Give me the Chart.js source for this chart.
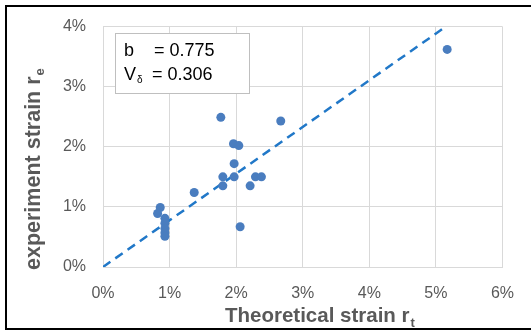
<!DOCTYPE html>
<html>
<head>
<meta charset="utf-8">
<script src="https://cdn.jsdelivr.net/npm/chart.js@4"></script>
<style>
  html, body { margin: 0; padding: 0; background: #fff; }
  #wrap { width: 531px; height: 330px; position: relative; }
</style>
</head>
<body>
<div id="wrap"><canvas id="strainChart" width="531" height="330"></canvas></div>
<script>
// 数据 (单位: %)
const theoreticalStrain = [5.17, 1.77, 2.67, 1.96, 2.04, 1.97, 1.80, 1.97, 2.29, 2.38, 1.80, 2.21, 1.37, 0.86, 0.82, 0.93, 0.93, 0.93, 0.93, 0.93, 2.06];
const experimentStrain  = [3.62, 2.49, 2.43, 2.05, 2.02, 1.72, 1.50, 1.50, 1.50, 1.50, 1.35, 1.35, 1.24, 0.99, 0.89, 0.81, 0.73, 0.64, 0.57, 0.51, 0.67];
const fitLineX = [0, 5.15];
const fitLineY = [0, 4];
const xTicks = [0, 1, 2, 3, 4, 5, 6];
const yTicks = [0, 1, 2, 3, 4];
const statLabels = ['b', 'V'];
const statValues = ['0.775', '0.306'];

const FONT = '"Liberation Sans", Arial, sans-serif';
const GREY = '#595959';

// 坐标轴标题、统计框、外框
const decorPlugin = {
    id: 'decor',
    afterDraw(chart) {
        const c = chart.ctx;
        c.save();

        // 统计框
        c.fillStyle = '#fff';
        c.fillRect(115, 33, 134, 60);
        c.strokeStyle = '#bfbfbf';
        c.lineWidth = 1;
        c.strokeRect(115.5, 33.5, 134, 60);
        c.fillStyle = '#000';
        c.textBaseline = 'alphabetic';
        c.font = '18px ' + FONT;
        c.fillText(statLabels[0], 124, 56);
        c.fillText('= ' + statValues[0], 154, 56);
        c.fillText(statLabels[1], 124, 80);
        c.font = '10px ' + FONT;
        c.fillText('δ', 137, 83);
        c.fillText('', 0, 0);
        c.font = '18px ' + FONT;
        c.fillText('= ' + statValues[1], 152, 80);

        // x 轴标题
        c.fillStyle = GREY;
        c.font = 'bold 20.5px ' + FONT;
        const xt = 'Theoretical strain r';
        const xw = c.measureText(xt).width;
        const xs = 225;
        c.fillText(xt, xs, 322);
        c.font = 'bold 13px ' + FONT;
        c.fillText('t', xs + xw + 1, 327);

        // y 轴标题
        c.translate(40, 270);
        c.rotate(-Math.PI / 2);
        c.font = 'bold 21.5px ' + FONT;
        const yt = 'experiment strain r';
        const yw = c.measureText(yt).width;
        c.fillText(yt, 0, 0);
        c.font = 'bold 13px ' + FONT;
        c.fillText('e', yw + 1, 4);
        c.setTransform(1, 0, 0, 1, 0, 0);

        // 外框
        c.fillStyle = '#000';
        c.fillRect(5, 5, 526, 2);
        c.fillRect(5, 5, 2, 325);
        c.fillRect(5, 328, 526, 2);
        c.restore();
    }
};

function initChart() {
    const ctx = document.getElementById('strainChart').getContext('2d');
    new Chart(ctx, {
        type: 'scatter',
        data: {
            datasets: [
                {
                    label: 'data',
                    data: theoreticalStrain.map((x, i) => ({ x: x, y: experimentStrain[i] })),
                    backgroundColor: '#4a7dbf',
                    borderColor: '#4a7dbf',
                    pointRadius: 4.5,
                    pointBorderWidth: 0,
                    order: 1
                },
                {
                    label: 'fit',
                    data: fitLineX.map((x, i) => ({ x: x, y: fitLineY[i] })),
                    showLine: true,
                    borderColor: '#2178c8',
                    borderWidth: 2.5,
                    borderDash: [9, 6],
                    pointRadius: 0,
                    fill: false,
                    order: 2
                }
            ]
        },
        options: {
            responsive: false,
            animation: false,
            events: [],
            layout: { padding: { left: 0, top: 24, right: 27, bottom: 0 } },
            plugins: {
                legend: { display: false },
                tooltip: { enabled: false }
            },
            scales: {
                x: {
                    type: 'linear',
                    min: xTicks[0],
                    max: xTicks[xTicks.length - 1],
                    afterFit: s => { s.height = 63; },
                    afterBuildTicks: s => { s.ticks = xTicks.map(v => ({ value: v })); },
                    grid: { color: '#d9d9d9', lineWidth: 1, drawTicks: false },
                    border: { color: '#d9d9d9' },
                    ticks: {
                        padding: 17,
                        color: GREY,
                        font: { family: FONT, size: 16 },
                        callback: v => v + '%'
                    }
                },
                y: {
                    type: 'linear',
                    min: yTicks[0],
                    max: yTicks[yTicks.length - 1],
                    afterFit: s => { s.width = 103; },
                    afterBuildTicks: s => { s.ticks = yTicks.map(v => ({ value: v })); },
                    grid: { color: '#d9d9d9', lineWidth: 1, drawTicks: false },
                    border: { color: '#d9d9d9' },
                    ticks: {
                        padding: 17,
                        color: GREY,
                        font: { family: FONT, size: 16 },
                        callback: v => v + '%'
                    }
                }
            }
        },
        plugins: [decorPlugin]
    });
}

document.addEventListener('DOMContentLoaded', initChart);
</script>
</body>
</html>
